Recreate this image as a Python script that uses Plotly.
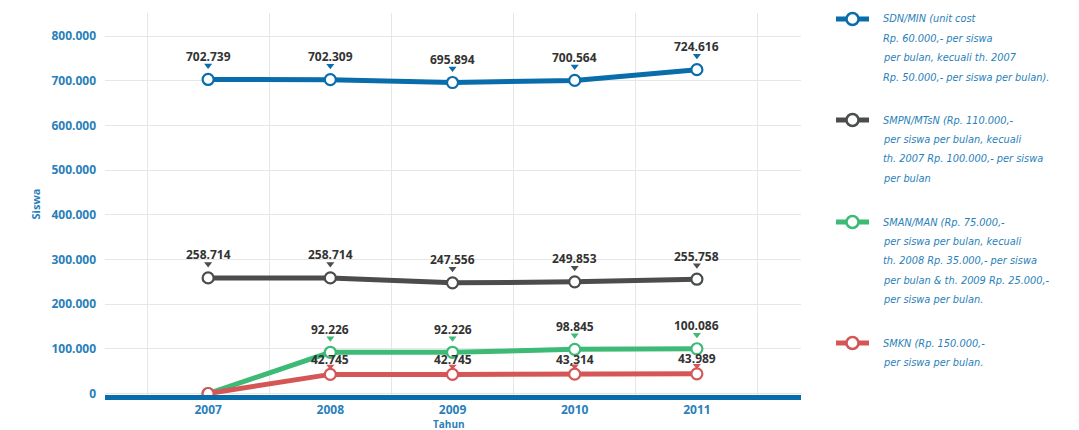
import plotly.graph_objects as go

# ---------------- data ----------------
years = [2007, 2008, 2009, 2010, 2011]
year_labels = ["2007", "2008", "2009", "2010", "2011"]

sdn = [702739, 702309, 695894, 700564, 724616]
smpn = [258714, 258714, 247556, 249853, 255758]
sman = [0, 92226, 92226, 98845, 100086]
smkn = [0, 42745, 42745, 43314, 43989]

sdn_labels = ["702.739", "702.309", "695.894", "700.564", "724.616"]
smpn_labels = ["258.714", "258.714", "247.556", "249.853", "255.758"]
sman_labels = ["", "92.226", "92.226", "98.845", "100.086"]
smkn_labels = ["", "42.745", "42.745", "43,314", "43.989"]

y_ticks = [0, 100000, 200000, 300000, 400000, 500000, 600000, 700000, 800000]

x_title = "Tahun"
y_title = "Siswa"

legend_sdn = ["SDN/MIN (unit cost", "Rp. 60.000,- per siswa",
              "per bulan, kecuali th. 2007", "Rp. 50.000,- per siswa per bulan)."]
legend_smpn = ["SMPN/MTsN (Rp. 110.000,-", "per siswa per bulan, kecuali",
               "th. 2007 Rp. 100.000,- per siswa", "per bulan"]
legend_sman = ["SMAN/MAN (Rp. 75.000,-", "per siswa per bulan, kecuali",
               "th. 2008 Rp. 35.000,- per siswa",
               "per bulan & th. 2009 Rp. 25.000,-", "per siswa per bulan."]
legend_smkn = ["SMKN (Rp. 150.000,-", "per siswa per bulan."]

# ---------------- styling ----------------
C_BLUE = "#0a6dab"
C_GRAY = "#4a4c4d"
C_GREEN = "#3dba76"
C_RED = "#d45656"
C_TEXT = "#2a7fba"

W, H = 1079, 430
ML, MR, MT, MB = 105, 278, 13, 35
PW, PH = W - ML - MR, H - MT - MB

y_per_px = 800000 / (393.5 - 36)
y_top = 800000 + (36 - MT) * y_per_px
y_bot = -((H - MB) - 393.5) * y_per_px

# (values, labels, colour, legend lines, legend y px, label shift px, pointer shift px)
series = [
    (sdn, sdn_labels, C_BLUE, legend_sdn, 19, 23, 14),
    (smpn, smpn_labels, C_GRAY, legend_smpn, 120, 23, 14),
    (sman, sman_labels, C_GREEN, legend_sman, 222, 23, 14),
    (smkn, smkn_labels, C_RED, legend_smkn, 343, 15, 8),
]

def px_x(p):
    return (p - ML) / PW

def px_y(p):
    return (H - MB - p) / PH

fig = go.Figure()
annotations = []
shapes = []

for vals, labels, color, leg, ly, lshift, tshift in series:
    fig.add_trace(go.Scatter(
        x=years, y=vals, mode="lines+markers",
        line=dict(color=color, width=5),
        marker=dict(size=11, color="white", line=dict(color=color, width=2.2)),
        showlegend=False, hoverinfo="skip",
    ))
    px_, py_ = [], []
    for xv, yv, t in zip(years, vals, labels):
        if not t:
            continue
        annotations.append(dict(
            x=xv, y=yv, xref="x", yref="y", text=f"<b>{t}</b>", showarrow=False,
            yshift=lshift, font=dict(family="Open Sans", size=12, color="#333333"),
        ))
        px_.append(xv)
        py_.append(yv + tshift * y_per_px)
    fig.add_trace(go.Scatter(
        x=px_, y=py_, mode="markers",
        marker=dict(symbol="triangle-down", size=7, color=color, line=dict(width=0)),
        showlegend=False, hoverinfo="skip",
    ))
    # legend icon
    shapes.append(dict(type="line", xref="paper", yref="paper",
                       x0=px_x(836), x1=px_x(869), y0=px_y(ly), y1=px_y(ly),
                       line=dict(color=color, width=5)))
    shapes.append(dict(type="circle", xref="paper", yref="paper",
                       xsizemode="pixel", ysizemode="pixel",
                       xanchor=px_x(852.5), yanchor=px_y(ly),
                       x0=-6, x1=6, y0=-6, y1=6,
                       fillcolor="white", line=dict(color=color, width=2.5)))
    for i, line_text in enumerate(leg):
        annotations.append(dict(
            x=px_x(881), y=px_y(ly + i * 19.4), xref="paper", yref="paper",
            xanchor="left", yanchor="middle", text=line_text, showarrow=False,
            font=dict(family="Liberation Sans Narrow, DejaVu Sans Condensed, sans-serif",
                      size=10.9, color=C_TEXT, style="italic"),
        ))

# x-axis title placed below the tick labels
annotations.append(dict(
    x=px_x(449), y=0, xref="paper", yref="paper", yanchor="bottom",
    yshift=-(MB + 2), borderpad=0,
    text=f"<b>{x_title}</b>", showarrow=False,
    font=dict(family="Open Sans", size=10, color=C_TEXT),
))

fig.update_layout(
    width=W, height=H,
    margin=dict(l=ML, r=MR, t=MT, b=MB, autoexpand=False),
    paper_bgcolor="white", plot_bgcolor="white",
    separators=",.",
    annotations=annotations,
    shapes=shapes,
    xaxis=dict(
        range=[2006.156, 2011.852],
        tickvals=years, ticktext=year_labels,
        showgrid=False, zeroline=False, automargin=False,
        showline=True, linecolor=C_BLUE, linewidth=5,
        ticks="", ticklabelstandoff=0,
        tickfont=dict(family="Open Sans", size=12, color=C_TEXT, weight="bold"),
        minor=dict(tick0=2006.5, dtick=1, showgrid=True, gridcolor="#e6e6e6",
                   gridwidth=1, ticks=""),
        fixedrange=True,
    ),
    yaxis=dict(
        range=[y_bot, y_top],
        tickvals=y_ticks, tickformat=",d",
        showgrid=True, gridcolor="#e6e6e6", gridwidth=1, automargin=False,
        zeroline=False, showline=False, ticks="", ticklabelstandoff=8,
        tickfont=dict(family="Open Sans", size=12, color=C_TEXT, weight="bold"),
        title=dict(text=f"<b>{y_title}</b>", standoff=8,
                   font=dict(family="Open Sans", size=11, color=C_TEXT)),
        fixedrange=True,
    ),
)

fig.write_html(
    "out.html",
    config={"displayModeBar": False},
    post_script="document.body.style.margin='0';document.body.style.overflow='hidden';",
)
